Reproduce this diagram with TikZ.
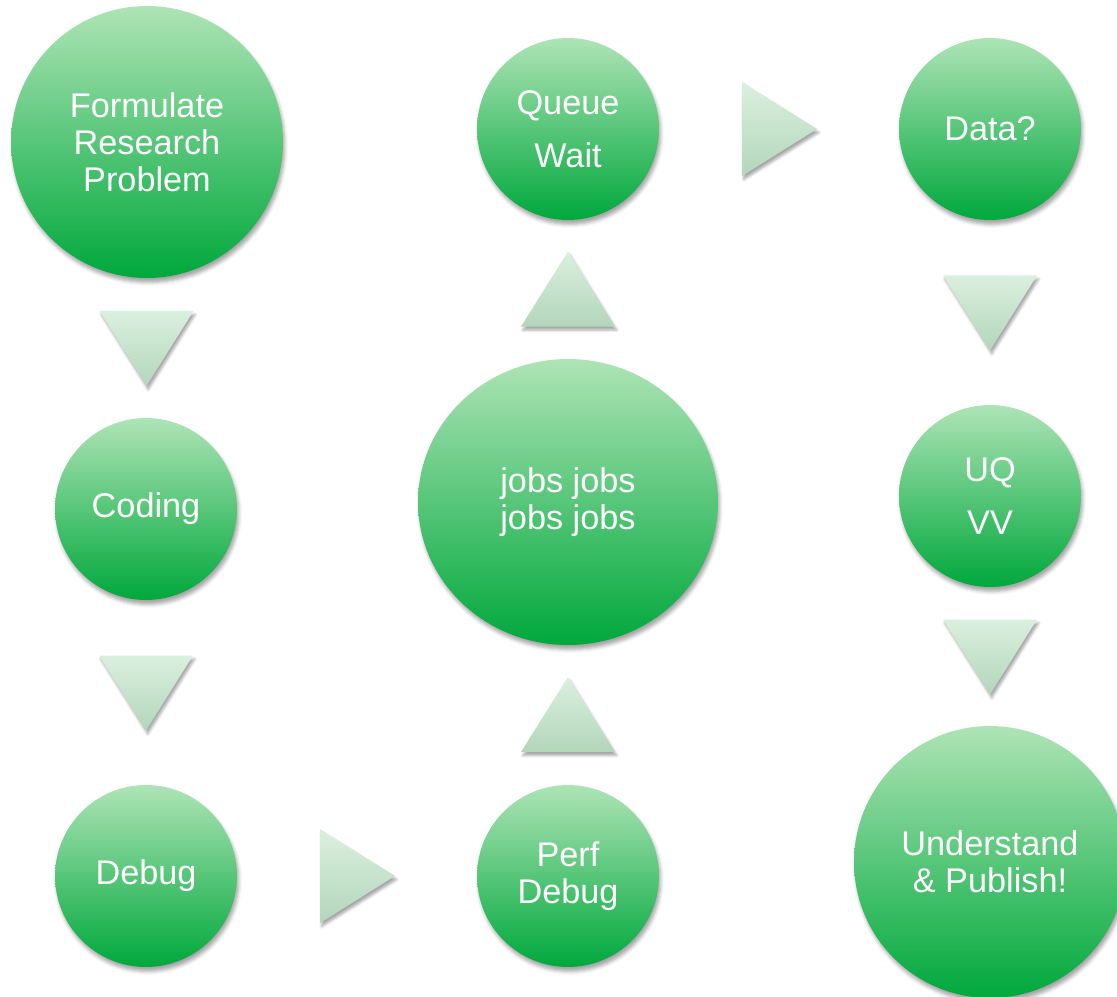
\documentclass[tikz,border=0pt]{standalone}
\usepackage{fontspec}
\setmainfont{Liberation Sans}
\usetikzlibrary{calc,shapes.geometric,shadows.blur}
\definecolor{gtop}{HTML}{AEE4B6}
\definecolor{gbot}{HTML}{00A83C}
\definecolor{ttop}{HTML}{DAF0DE}
\definecolor{tbot}{HTML}{B3D6BB}
\tikzset{
  stage/.style={circle, top color=gtop, bottom color=gbot, text=white, align=center,
    inner sep=0pt, font=\fontsize{19.5}{21}\selectfont,
    blur shadow={shadow xshift=1pt, shadow yshift=-2.5pt, shadow blur radius=2pt, shadow opacity=35}},
  small/.style={stage, minimum size=3.64cm},
  big/.style={stage, minimum size=5.44cm},
  tri/.style={top color=ttop, bottom color=tbot,
    blur shadow={shadow xshift=1pt, shadow yshift=-2pt, shadow blur radius=1.5pt, shadow opacity=35}}
}
% arrow triangles at a point (pixel units, y down)
\newcommand{\tridown}[1]{\path[tri] ($#1+(-47,-37)$) -- ++(94,0) -- ++(-47,75) -- cycle;}
\newcommand{\triup}[1]{\path[tri] ($#1+(-47,37)$) -- ++(94,0) -- ++(-47,-75) -- cycle;}
\newcommand{\triright}[1]{\path[tri] ($#1+(-37,-47)$) -- ++(75,47) -- ++(-75,47) -- cycle;}
\begin{document}
\begin{tikzpicture}[x=0.02cm,y=-0.02cm]
\useasboundingbox (0,0) rectangle (1117,997);
% left column
\node[big] (frp) at (147,142) {Formulate\\Research\\Problem};
\node[small] (cod) at (146,509) {Coding};
\node[small] (dbg) at (146,876) {Debug};
% middle column
\node[small] (perf) at (568,876) {Perf\\Debug};
\node[stage, ellipse, minimum width=6cm, minimum height=5.72cm] (jobs) at (568,502) {jobs jobs\\jobs jobs};
\node[small] (queue) at (568,129) {Queue\\[9pt]Wait};
% right column
\node[small] (data) at (990,129) {Data?};
\node[small] (uq) at (990,496) {UQ\\[9pt]VV};
\node[big] (pub) at (990,862) {Understand\\\& Publish!};
% arrows
\coordinate (a1) at ($(frp.south)!0.5!(cod.north)$);
\coordinate (a2) at ($(cod.south)!0.5!(dbg.north)$);
\coordinate (a3) at ($(dbg.east)!0.5!(perf.west)$);
\coordinate (a4) at ($(perf.north)!0.5!(jobs.south)$);
\coordinate (a5) at ($(jobs.north)!0.5!(queue.south)$);
\coordinate (a6) at ($(queue.east)!0.5!(data.west)$);
\coordinate (a7) at ($(data.south)!0.5!(uq.north)$);
\coordinate (a8) at ($(uq.south)!0.5!(pub.north)$);
\tridown{(a1)} \tridown{(a2)} \triright{(a3)}
\triup{(a4)} \triup{(a5)} \triright{(a6)}
\tridown{(a7)} \tridown{(a8)}
\end{tikzpicture}
\end{document}
